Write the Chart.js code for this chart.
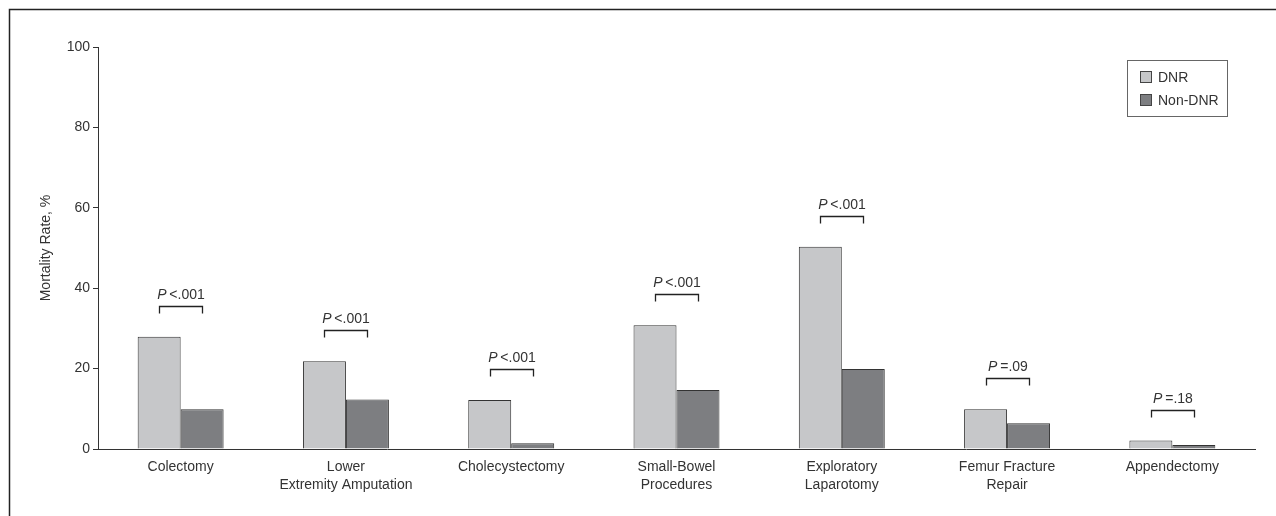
<!DOCTYPE html>
<html>
<head>
<meta charset="utf-8">
<script src="https://cdn.jsdelivr.net/npm/chart.js@4"></script>
<style>
  html, body { margin: 0; padding: 0; background: #fff; }
  #wrap { position: relative; width: 1276px; height: 516px; overflow: hidden; }
  #mortChart { display: block; }
  .chart-legend {
    position: absolute; left: 1127px; top: 60px; width: 99px; height: 55px;
    border: 1px solid #666; box-sizing: content-box;
    font: 14px "Liberation Sans", Arial, sans-serif; color: #333;
  }
  .legend-item { position: absolute; left: 12px; display: flex; align-items: center; height: 16px; white-space: nowrap; }
  .legend-color { width: 10px; height: 10px; border: 1px solid #444; margin-right: 6px; }
</style>
</head>
<body>
<div id="wrap">
  <canvas id="mortChart" width="1276" height="516"></canvas>
  <div class="chart-legend"></div>
</div>
<script>
const categories = [
  "Colectomy",
  ["Lower", "Extremity Amputation"],
  "Cholecystectomy",
  ["Small-Bowel", "Procedures"],
  ["Exploratory", "Laparotomy"],
  ["Femur Fracture", "Repair"],
  "Appendectomy"
];
const dnrRates = [27.9, 21.8, 12.2, 30.8, 50.3, 9.9, 2.1];
const nonDnrRates = [9.9, 12.3, 1.4, 14.7, 19.9, 6.4, 1.0];
const pValues = ["<.001", "<.001", "<.001", "<.001", "<.001", "=.09", "=.18"];
const yTicks = [0, 20, 40, 60, 80, 100];

const FONT = '"Liberation Sans", Arial, sans-serif';
const INK = "#333";

// frame line along top and left of the figure
const framePlugin = {
  id: "frame",
  beforeDraw(chart) {
    const ctx = chart.ctx;
    ctx.save();
    ctx.strokeStyle = "#222";
    ctx.lineWidth = 1.5;
    ctx.beginPath();
    ctx.moveTo(9.5, chart.height);
    ctx.lineTo(9.5, 9.5);
    ctx.lineTo(chart.width, 9.5);
    ctx.stroke();
    ctx.restore();
  }
};

// P value brackets above each pair of bars
const pValuePlugin = {
  id: "pvalues",
  afterDatasetsDraw(chart) {
    const ctx = chart.ctx;
    const m0 = chart.getDatasetMeta(0);
    const m1 = chart.getDatasetMeta(1);
    ctx.save();
    pValues.forEach((p, i) => {
      const b0 = m0.data[i], b1 = m1.data[i];
      const top = Math.round(Math.min(b0.y, b1.y) - 31) + 0.5;
      const x0 = Math.round(b0.x) + 0.5, x1 = Math.round(b1.x) + 0.5;
      ctx.strokeStyle = "#222";
      ctx.lineWidth = 1.3;
      ctx.beginPath();
      ctx.moveTo(x0, top + 7);
      ctx.lineTo(x0, top);
      ctx.lineTo(x1, top);
      ctx.lineTo(x1, top + 7);
      ctx.stroke();

      // italic P followed by the comparison
      ctx.fillStyle = INK;
      ctx.textBaseline = "alphabetic";
      ctx.textAlign = "left";
      const italic = "italic 14px " + FONT;
      const normal = "14px " + FONT;
      ctx.font = italic;
      const wP = ctx.measureText("P").width;
      const rest = "\u2009" + p;
      ctx.font = normal;
      const wR = ctx.measureText(rest).width;
      let x = (x0 + x1) / 2 - (wP + wR) / 2;
      ctx.font = italic;
      ctx.fillText("P", x, top - 8);
      ctx.font = normal;
      ctx.fillText(rest, x + wP, top - 8);
    });
    ctx.restore();
  }
};

const chart = new Chart(document.getElementById("mortChart"), {
  type: "bar",
  data: {
    labels: categories,
    datasets: [
      { label: "DNR", data: dnrRates, backgroundColor: "#c6c7c9", borderColor: "#333", borderWidth: 1 },
      { label: "Non-DNR", data: nonDnrRates, backgroundColor: "#7d7e81", borderColor: "#333", borderWidth: 1 }
    ]
  },
  options: {
    responsive: false,
    animation: false,
    layout: { padding: { left: 0, top: 47, right: 21, bottom: 0 } },
    categoryPercentage: 0.52,
    barPercentage: 1.0,
    plugins: {
      legend: { display: false },   // html legend below
      tooltip: { enabled: false }
    },
    scales: {
      x: {
        grid: { display: false, drawTicks: false },
        border: { display: true, color: INK, width: 1 },
        ticks: {
          color: INK, font: { family: FONT, size: 14, lineHeight: 1.3 },
          padding: 9, maxRotation: 0, autoSkip: false
        },
        afterFit(scale) { scale.height = 67; }
      },
      y: {
        min: 0, max: 100,
        afterBuildTicks(scale) { scale.ticks = yTicks.map(v => ({ value: v })); },
        grid: { drawOnChartArea: false, drawTicks: true, tickLength: 5, color: INK, tickColor: INK },
        border: { display: true, color: INK, width: 1 },
        ticks: { color: INK, font: { family: FONT, size: 14 }, padding: 3 },
        title: {
          display: true, text: "Mortality Rate, %", color: INK,
          font: { family: FONT, size: 14 }, padding: { top: 38, bottom: 0 }
        },
        afterFit(scale) { scale.width = 98; }
      }
    }
  },
  plugins: [framePlugin, pValuePlugin]
});

// custom legend
const legendEl = document.querySelector(".chart-legend");
legendEl.innerHTML = "";
chart.data.datasets.forEach((ds, i) => {
  const item = document.createElement("div");
  item.className = "legend-item";
  item.style.top = (8 + i * 23) + "px";
  item.innerHTML = `<span class="legend-color" style="background:${ds.backgroundColor}"></span><span class="legend-label">${ds.label}</span>`;
  legendEl.appendChild(item);
});
</script>
</body>
</html>
